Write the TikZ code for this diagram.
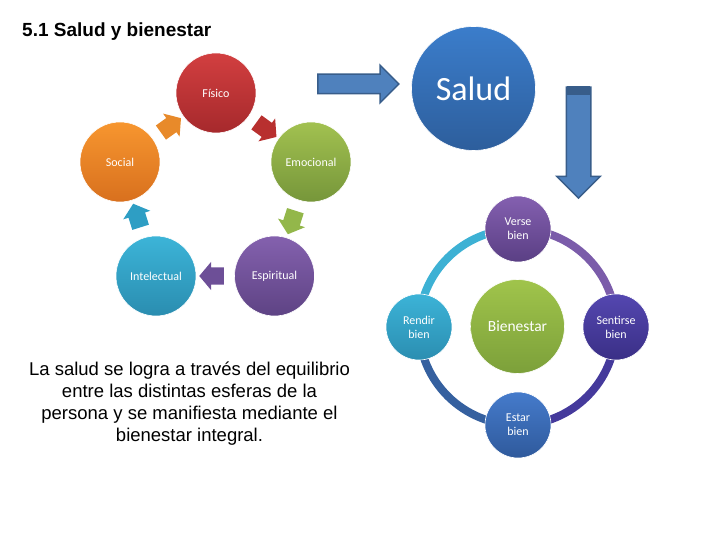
\documentclass[tikz,border=0pt]{standalone}
\usepackage{fontspec}
\setmainfont{Liberation Sans}
\newfontfamily\calfont{Carlito}
\usetikzlibrary{shapes.arrows,backgrounds}
\definecolor{fisT}{HTML}{D23F40}\definecolor{fisB}{HTML}{A6292C}
\definecolor{socT}{HTML}{F7962F}\definecolor{socB}{HTML}{D8701E}
\definecolor{emoT}{HTML}{A2C150}\definecolor{emoB}{HTML}{76963A}
\definecolor{intT}{HTML}{3CB4D8}\definecolor{intB}{HTML}{2A8DB0}
\definecolor{espT}{HTML}{8461AE}\definecolor{espB}{HTML}{5E4384}
\definecolor{salT}{HTML}{3B7DCB}\definecolor{salB}{HTML}{2D5E9C}
\definecolor{verT}{HTML}{8460B0}\definecolor{verB}{HTML}{5A3F84}
\definecolor{renT}{HTML}{3CB3D7}\definecolor{renB}{HTML}{2B8EB1}
\definecolor{senT}{HTML}{5447B0}\definecolor{senB}{HTML}{3A2F86}
\definecolor{estT}{HTML}{457BCB}\definecolor{estB}{HTML}{2F5A9C}
\definecolor{bieT}{HTML}{A0C44B}\definecolor{bieB}{HTML}{7CA03A}
\definecolor{arOr}{HTML}{E88A2A}\definecolor{arRe}{HTML}{B8302F}
\definecolor{arGr}{HTML}{93B74A}\definecolor{arPu}{HTML}{6D4F97}
\definecolor{arBl}{HTML}{2E9EC4}
\definecolor{bigF}{HTML}{4F81BD}\definecolor{bigD}{HTML}{385D8A}
\definecolor{rTL}{HTML}{3DB1D4}\definecolor{rTR}{HTML}{7B5CAA}
\definecolor{rBR}{HTML}{453A9C}\definecolor{rBL}{HTML}{35609F}
\tikzset{
  ball/.style={circle, draw=white, line width=0.6pt, inner sep=0pt, text=white, align=center,
    font=\calfont\fontsize{12}{14}\selectfont},
  cyc/.style={single arrow, sloped, allow upside down, minimum height=22pt, inner sep=8.5pt,
    single arrow head extend=5.5pt, single arrow tip angle=100, draw=none},
  bigarrow/.style={single arrow, fill=bigF, draw=bigD, line width=1.5pt},
  ring/.style={line width=8pt},
}
\begin{document}
\begin{tikzpicture}[x=1pt,y=1pt]
\useasboundingbox (0,0) rectangle (720,540);
% title
\node[anchor=base west, inner sep=0pt, font=\bfseries\fontsize{19}{22}\selectfont] (title) at (22,503) {5.1 Salud y bienestar};
% cycle of spheres
\node[ball, minimum size=80pt, top color=fisT, bottom color=fisB] (fis) at (216,447) {Físico};
\node[ball, minimum size=80pt, top color=socT, bottom color=socB] (soc) at (120,378) {Social};
\node[ball, minimum size=80pt, top color=emoT, bottom color=emoB] (emo) at (311,378) {Emocional};
\node[ball, minimum size=80pt, top color=intT, bottom color=intB] (intl) at (156,264) {Intelectual};
\node[ball, minimum size=80pt, top color=espT, bottom color=espB] (esp) at (274.5,264) {Espiritual};
\path (soc) -- node[cyc, fill=arOr]{} (fis);
\path (fis) -- node[cyc, fill=arRe]{} (emo);
\path (emo) -- node[cyc, fill=arGr]{} (esp);
\path (esp) -- node[cyc, fill=arPu]{} (intl);
\path (intl) -- node[cyc, fill=arBl]{} (soc);
% salud
\node[ball, minimum size=124pt, top color=salT, bottom color=salB, font=\calfont\fontsize{34}{38}\selectfont] (salud) at (473.5,451.5) {Salud};
\node[bigarrow, minimum height=81pt, inner sep=9pt, single arrow head extend=9pt] (harrow) at (353.5,456) {};
\node[bigarrow, rotate=-90, minimum height=111pt, inner sep=11.5pt, single arrow head extend=9.5pt] (varrow) at (578.5,403.5) {};
\fill[bigD] ([xshift=-11.5pt]varrow.tail) rectangle ([xshift=11.5pt,yshift=-9pt]varrow.tail);
% bienestar ring
\node[ball, minimum size=66pt, top color=verT, bottom color=verB] (verse) at (518,311) {Verse\\bien};
\node[ball, minimum size=66pt, top color=renT, bottom color=renB] (rend) at (419,213) {Rendir\\bien};
\node[ball, minimum size=66pt, top color=senT, bottom color=senB] (sent) at (616,213) {Sentirse\\bien};
\node[ball, minimum size=66pt, top color=estT, bottom color=estB] (estar) at (518,115) {Estar\\bien};
\node[ball, minimum size=94pt, top color=bieT, bottom color=bieB, font=\calfont\fontsize{15.5}{18}\selectfont] (bien) at (517.5,213.5) {Bienestar};
\begin{scope}[on background layer]
\draw[ring, rTL] (rend.center) to[out=90,in=180] (verse.center);
\draw[ring, rTR] (verse.center) to[out=0,in=90] (sent.center);
\draw[ring, rBR] (sent.center) to[out=-90,in=0] (estar.center);
\draw[ring, rBL] (estar.center) to[out=180,in=-90] (rend.center);
\end{scope}
% paragraph
\node[align=center, inner sep=0pt, font=\fontsize{18.5}{22}\selectfont] (para) at (189.5,136) {La salud se logra a través del equilibrio\\entre las distintas esferas de la\\persona y se manifiesta mediante el\\bienestar integral.};
\end{tikzpicture}
\end{document}
